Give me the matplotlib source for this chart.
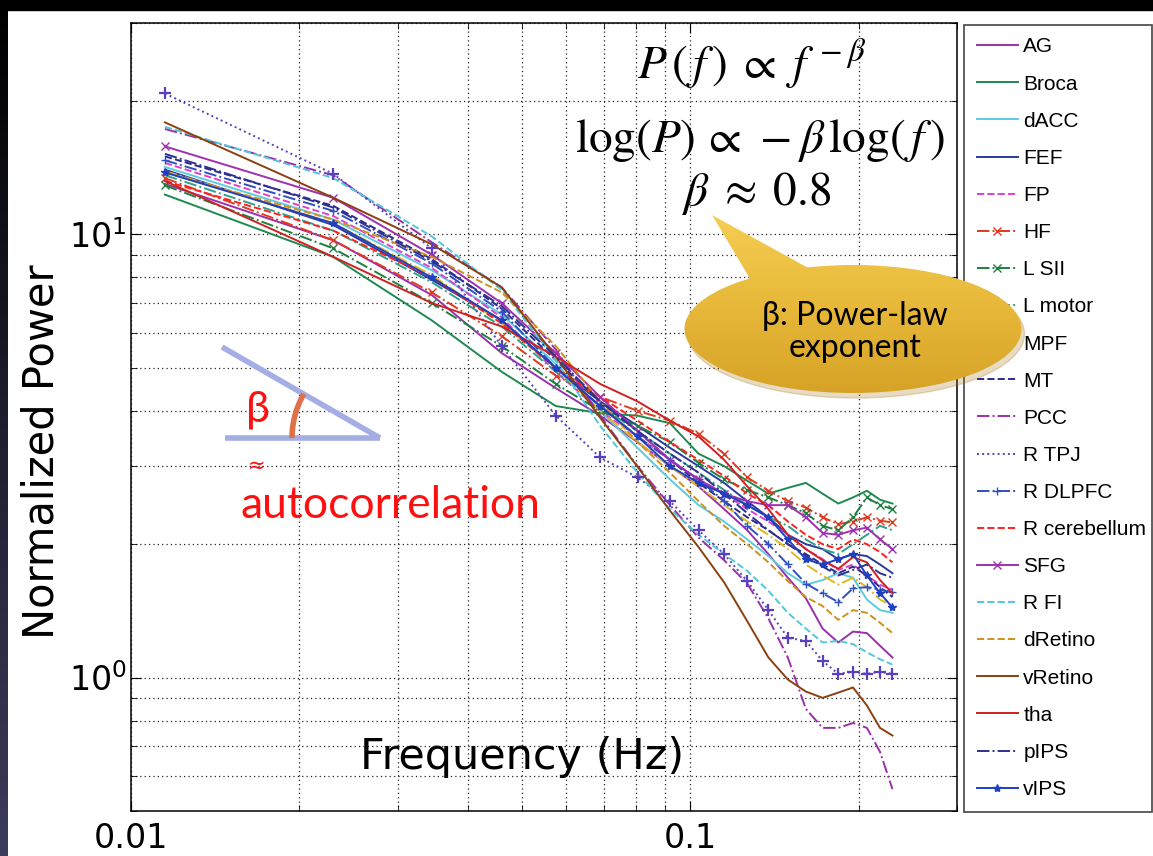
import matplotlib.pyplot as plt
import numpy as np
from matplotlib.patches import Ellipse, Polygon, Arc, Rectangle
from matplotlib.colors import LinearSegmentedColormap
from matplotlib.ticker import NullFormatter

# frequency bins (Hz)
freqs = [0.0115, 0.0230, 0.0345, 0.0460, 0.0575, 0.0690, 0.0805, 0.0920, 0.1035, 0.1150,
         0.1265, 0.1380, 0.1495, 0.1610, 0.1725, 0.1840, 0.1955, 0.2070, 0.2185, 0.2300]

# normalized power per region
ag = [13.0, 9.7, 7.3, 5.4, 4.5, 3.9, 3.4, 3.0, 2.7, 2.4, 2.15, 1.9, 1.68, 1.51, 1.29, 1.2, 1.27, 1.26, 1.18, 1.11]
broca = [12.3, 8.9, 6.4, 4.9, 4.1, 3.95, 3.9, 3.75, 3.2, 3.0, 2.78, 2.6, 2.68, 2.75, 2.6, 2.47, 2.55, 2.64, 2.52, 2.47]
dacc = [14.2, 10.8, 8.3, 6.6, 5.1, 4.0, 3.3, 2.8, 2.45, 2.25, 2.05, 1.88, 1.72, 1.62, 1.66, 1.72, 1.68, 1.5, 1.42, 1.40]
fef = [14.0, 10.5, 7.9, 6.4, 5.0, 4.2, 3.7, 3.3, 3.0, 2.75, 2.5, 2.3, 2.1, 2.0, 1.95, 1.85, 1.9, 1.88, 1.8, 1.72]
fp = [14.5, 11.0, 8.4, 6.5, 4.9, 4.0, 3.5, 3.1, 2.8, 2.6, 2.4, 2.25, 2.1, 1.95, 1.85, 1.75, 1.8, 1.7, 1.62, 1.58]
hf = [13.4, 9.7, 7.4, 5.9, 4.8, 4.3, 4.0, 3.8, 3.55, 3.2, 2.83, 2.64, 2.5, 2.42, 2.3, 2.22, 2.25, 2.3, 2.26, 2.24]
l_sii = [12.9, 9.3, 7.0, 5.6, 4.6, 4.0, 3.7, 3.4, 3.05, 2.8, 2.65, 2.55, 2.45, 2.35, 2.2, 2.15, 2.3, 2.55, 2.45, 2.4]
l_motor = [13.6, 10.2, 7.8, 6.2, 4.9, 4.1, 3.6, 3.2, 2.9, 2.65, 2.45, 2.3, 2.2, 2.05, 1.95, 1.9, 2.0, 2.1, 2.2, 2.15]
mpf = [13.9, 10.6, 8.1, 6.3, 5.0, 4.0, 3.4, 3.0, 2.7, 2.45, 2.25, 2.1, 1.95, 1.8, 1.7, 1.62, 1.68, 1.6, 1.5, 1.45]
mt = [15.0, 11.6, 8.8, 6.8, 5.2, 4.2, 3.6, 3.1, 2.75, 2.5, 2.3, 2.15, 2.0, 1.9, 1.8, 1.72, 1.78, 1.7, 1.6, 1.52]
pcc = [17.3, 13.6, 9.6, 7.6, 5.5, 3.9, 3.0, 2.45, 2.07, 1.84, 1.63, 1.36, 1.11, 0.85, 0.77, 0.77, 0.79, 0.77, 0.68, 0.56]
r_tpj = [20.8, 13.7, 9.3, 5.6, 3.9, 3.14, 2.83, 2.5, 2.15, 1.9, 1.65, 1.42, 1.23, 1.21, 1.09, 1.02, 1.03, 1.02, 1.03, 1.02]
r_dlpfc = [14.7, 11.3, 8.6, 6.7, 5.0, 4.1, 3.5, 3.1, 2.8, 2.5, 2.2, 2.0, 1.8, 1.63, 1.55, 1.48, 1.59, 1.6, 1.58, 1.56]
r_cereb = [13.2, 10.2, 8.0, 6.3, 5.0, 4.3, 3.8, 3.4, 3.1, 2.85, 2.6, 2.45, 2.25, 2.1, 2.0, 1.95, 2.05, 2.0, 1.92, 1.82]
sfg = [15.8, 12.1, 9.0, 7.0, 5.4, 4.3, 3.6, 3.1, 2.8, 2.6, 2.5, 2.45, 2.45, 2.3, 2.12, 2.1, 2.15, 2.18, 2.05, 1.95]
r_fi = [17.5, 13.4, 9.9, 7.5, 5.2, 3.7, 2.9, 2.4, 2.1, 1.9, 1.74, 1.57, 1.40, 1.29, 1.2, 1.21, 1.19, 1.14, 1.10, 1.07]
dretino = [13.8, 10.8, 8.9, 7.4, 5.6, 4.2, 3.4, 2.9, 2.5, 2.2, 2.0, 1.82, 1.65, 1.52, 1.45, 1.35, 1.42, 1.40, 1.33, 1.26]
vretino = [17.9, 12.1, 9.5, 7.6, 5.3, 3.86, 2.99, 2.38, 1.97, 1.64, 1.34, 1.11, 0.99, 0.93, 0.90, 0.925, 0.95, 0.865, 0.77, 0.74]
tha = [13.2, 8.9, 7.0, 6.2, 5.3, 4.6, 4.2, 3.8, 3.5, 3.1, 2.7, 2.4, 2.1, 1.95, 1.84, 1.76, 1.87, 1.82, 1.66, 1.55]
pips = [15.2, 11.5, 8.7, 6.9, 5.3, 4.2, 3.6, 3.2, 2.9, 2.6, 2.35, 2.15, 2.0, 1.88, 1.78, 1.7, 1.75, 1.8, 1.72, 1.68]
vips = [13.8, 10.6, 8.0, 6.4, 5.0, 4.1, 3.5, 3.0, 2.75, 2.6, 2.45, 2.3, 2.05, 1.85, 1.8, 1.85, 1.9, 1.7, 1.55, 1.44]

labels = ['AG', 'Broca', 'dACC', 'FEF', 'FP', 'HF', 'L SII', 'L motor', 'MPF', 'MT', 'PCC',
          'R TPJ', 'R DLPFC', 'R cerebellum', 'SFG', 'R FI', 'dRetino', 'vRetino', 'tha', 'pIPS', 'vIPS']
values = [ag, broca, dacc, fef, fp, hf, l_sii, l_motor, mpf, mt, pcc,
          r_tpj, r_dlpfc, r_cereb, sfg, r_fi, dretino, vretino, tha, pips, vips]

colors = ['#9b2fae', '#1e8a50', '#5ccbe0', '#2a3a9a', '#e040d0', '#e03a20', '#1e8040', '#2fa08a',
          '#e0b820', '#2a2a90', '#9a30a8', '#5a40c0', '#3050c0', '#ff2020', '#a030b0', '#50c8d8',
          '#d09020', '#8b4010', '#d02020', '#303090', '#2040c0']
styles = ['-', '-', '-', '-', '--', '-.', '-.', '-.', '-.', '--', '-.', ':', '-.', '--', '-', '--',
          '--', '-', '-', '-.', '-']
markers = [None, None, None, None, None, 'x', 'x', None, None, None, None, None, '+', None, 'x',
           None, None, None, None, None, '*']

W, H = 1153, 856
fig = plt.figure(figsize=(W / 100, H / 100), dpi=100)
fig.patch.set_facecolor('white')
ax = fig.add_axes([131 / W, 45 / H, 826 / W, 788 / H])

for lab, v, c, ls, m in zip(labels, values, colors, styles, markers):
    ax.plot(freqs, v, color=c, linestyle=ls, marker=m, markersize=6, lw=1.4, label=lab)
# R TPJ carries '+' marks in the plot but not in the legend
ax.plot(freqs, r_tpj, linestyle='none', marker='+', markersize=8, mew=1.6, color='#5a40c0')

ax.set_xscale('log')
ax.set_yscale('log')
ax.set_xlim(0.01, 0.3)
ax.set_ylim(0.5, 30)
ax.set_xticks([0.01, 0.1])
ax.set_xticklabels(['0.01', '0.1'])
ax.xaxis.set_minor_formatter(NullFormatter())
ax.yaxis.set_minor_formatter(NullFormatter())
ax.grid(True, which='both', linestyle=(0, (1, 2.5)), color='#222222', lw=0.9)
ax.tick_params(which='both', direction='in', top=True, right=True)
ax.tick_params(which='major', length=7, labelsize=24)
ax.tick_params(which='minor', length=4)
ax.tick_params(axis='x', pad=8)
ax.tick_params(axis='y', pad=3)
for s in ax.spines.values():
    s.set_linewidth(1.1)

ax.set_xlabel('Frequency (Hz)', fontsize=31)
ax.xaxis.set_label_coords(0.473, 0.095)
ax.set_ylabel('Normalized Power', fontsize=30)
ax.yaxis.set_label_coords(-0.083, 0.456)

leg = ax.legend(loc='upper left', bbox_to_anchor=(964 / W, 1 - 25 / H, 188 / W, 0),
                bbox_transform=fig.transFigure, mode='expand', borderaxespad=0,
                fancybox=False, edgecolor='#444444', framealpha=1,
                prop={'family': 'Liberation Sans', 'size': 15}, labelspacing=0.87,
                handlelength=2.0, handletextpad=0.25, borderpad=0.6)
leg.get_frame().set_linewidth(1.2)

# overlay in pixel coordinates for the slide decorations
ov = fig.add_axes([0, 0, 1, 1], zorder=5)
ov.axis('off')

ov.add_patch(Rectangle((0, 0), W, 10, color='black', zorder=1))
strip = LinearSegmentedColormap.from_list('strip', ['#000000', '#3c3c5c'])
ov.imshow(np.linspace(0, 1, 256)[:, None], extent=(0, 8, H, 0), cmap=strip, aspect='auto', zorder=1)

# formulas
ov.text(752, 65, r'$P\,(\,f\,)\;\propto\; f^{\,-\beta}$', fontsize=34, ha='center', va='center',
        math_fontfamily='stix')
ov.text(760, 140, r'$\log(P)\,\propto\,-\beta\,\log(\,f\,)$', fontsize=34, ha='center', va='center',
        math_fontfamily='stix')
ov.text(757, 193, r'$\beta\;\approx\;0.8$', fontsize=34, ha='center', va='center', math_fontfamily='stix')

# callout bubble
gold = LinearSegmentedColormap.from_list('gold', ['#f5cf55', '#e8b93a', '#d6a226'])
shadow = Ellipse((856, 334), 337, 128, color='#a07010', alpha=0.25, zorder=2)
ov.add_patch(shadow)
ell = Ellipse((853, 329), 337, 128, facecolor='none', edgecolor='none', zorder=3)
tail = Polygon([(712, 215), (752, 282), (812, 270)], closed=True, facecolor='none', edgecolor='none', zorder=3)
ov.add_patch(ell)
ov.add_patch(tail)
for p in (ell, tail):
    im = ov.imshow(np.linspace(0, 1, 256)[:, None], extent=(680, 1030, 395, 210), cmap=gold,
                   aspect='auto', zorder=3)
    im.set_clip_path(p)
ov.text(855, 332, 'β: Power-law\nexponent', fontsize=23, family='Lato', ha='center', va='center',
        linespacing=1.1, zorder=4)

# angle sketch
ov.plot([222, 380], [347, 438], color='#a4aee4', lw=4, solid_capstyle='butt', zorder=2)
ov.plot([225, 380], [438, 438], color='#a4aee4', lw=4, solid_capstyle='butt', zorder=2)
ov.add_patch(Arc((380, 438), 176, 176, theta1=180, theta2=210, color='#e0704a', lw=4, zorder=3))
ov.text(258, 410, 'β', fontsize=31, color='#ff1010', family='Lato', ha='center', va='center')
ov.text(257, 466, '≈', fontsize=15, color='#ff1010', family='DejaVu Sans', ha='center', va='center')
ov.text(240, 505, 'autocorrelation', fontsize=32, color='#ff1010', family='Lato', ha='left', va='center')

ov.set_xlim(0, W)
ov.set_ylim(H, 0)

plt.savefig('out.png', dpi=100)
